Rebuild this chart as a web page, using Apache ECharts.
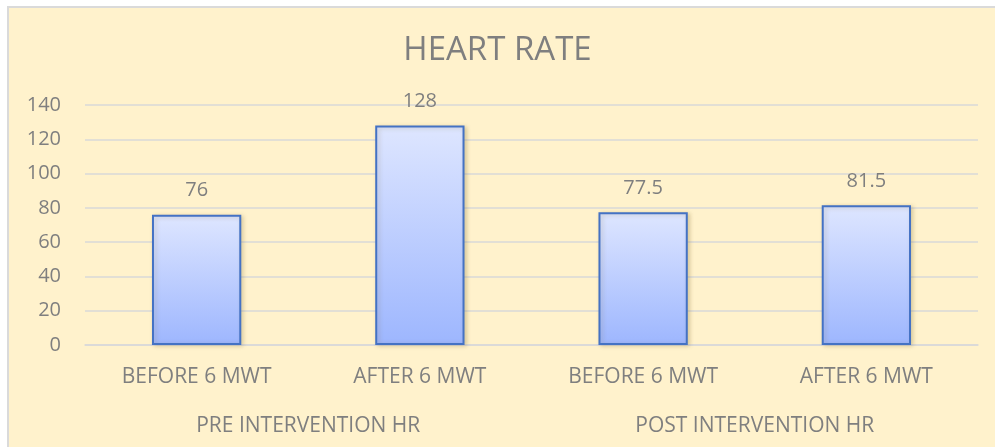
<!DOCTYPE html>
<html>
<head>
<meta charset="utf-8">
<script src="https://cdn.jsdelivr.net/npm/echarts@6/dist/echarts.min.js"></script>
<style>
html,body{margin:0;padding:0;background:#ffffff;}
#chart{width:995px;height:447px;}
</style>
</head>
<body>
<div id="chart"></div>
<script>
var titleText = 'HEART RATE';
var categories = ['BEFORE 6 MWT', 'AFTER 6 MWT', 'BEFORE 6 MWT', 'AFTER 6 MWT'];
var groups = ['PRE INTERVENTION HR', 'POST INTERVENTION HR'];
var values = [76, 128, 77.5, 81.5];
var yTicks = [0, 20, 40, 60, 80, 100, 120, 140];

var textColor = '#7F7F7F';
var font = 'Open Sans';
var chart = echarts.init(document.getElementById('chart'));
chart.setOption({
  animation: false,
  backgroundColor: '#ffffff',
  graphic: [
    {type: 'rect', z: -10, silent: true, shape: {x: 7, y: 6, width: 988, height: 441}, style: {fill: '#DADADA'}},
    {type: 'rect', z: -9, silent: true, shape: {x: 9, y: 8, width: 986, height: 439}, style: {fill: '#FFF2CC'}}
  ],
  title: {
    text: titleText,
    left: 'center',
    top: 29,
    textStyle: {color: textColor, fontFamily: font, fontSize: 33, fontWeight: 'normal'}
  },
  grid: {left: 85, right: 17, top: 105, bottom: 102, containLabel: false},
  xAxis: [
    {
      type: 'category',
      data: categories,
      axisLine: {show: true, lineStyle: {color: '#D9D9D9', width: 1.5}},
      axisTick: {show: false},
      axisLabel: {color: textColor, fontFamily: font, fontSize: 21, margin: 22, interval: 0}
    },
    {
      type: 'category',
      data: groups,
      position: 'bottom',
      offset: 49,
      axisLine: {show: false},
      axisTick: {show: false},
      axisLabel: {color: textColor, fontFamily: font, fontSize: 21, margin: 22, interval: 0}
    }
  ],
  yAxis: {
    type: 'value',
    min: yTicks[0],
    max: yTicks[yTicks.length - 1],
    interval: yTicks[1] - yTicks[0],
    axisLine: {show: false},
    axisTick: {show: false},
    axisLabel: {color: textColor, fontFamily: font, fontSize: 20, margin: 24},
    splitLine: {lineStyle: {color: '#D9D9D9', width: 1.5}}
  },
  series: [{
    type: 'bar',
    xAxisIndex: 0,
    data: values,
    barWidth: '40%',
    itemStyle: {
      color: new echarts.graphic.LinearGradient(0, 0, 0, 1, [
        {offset: 0, color: '#DEE6FF'},
        {offset: 1, color: '#9DB6FE'}
      ]),
      borderColor: '#4472C4',
      borderWidth: 2,
      shadowColor: 'rgba(120,100,40,0.25)',
      shadowBlur: 4,
      shadowOffsetX: 2,
      shadowOffsetY: 1
    },
    label: {
      show: true,
      position: 'top',
      distance: 14,
      color: textColor,
      fontFamily: font,
      fontSize: 20
    }
  }]
});
</script>
</body>
</html>
